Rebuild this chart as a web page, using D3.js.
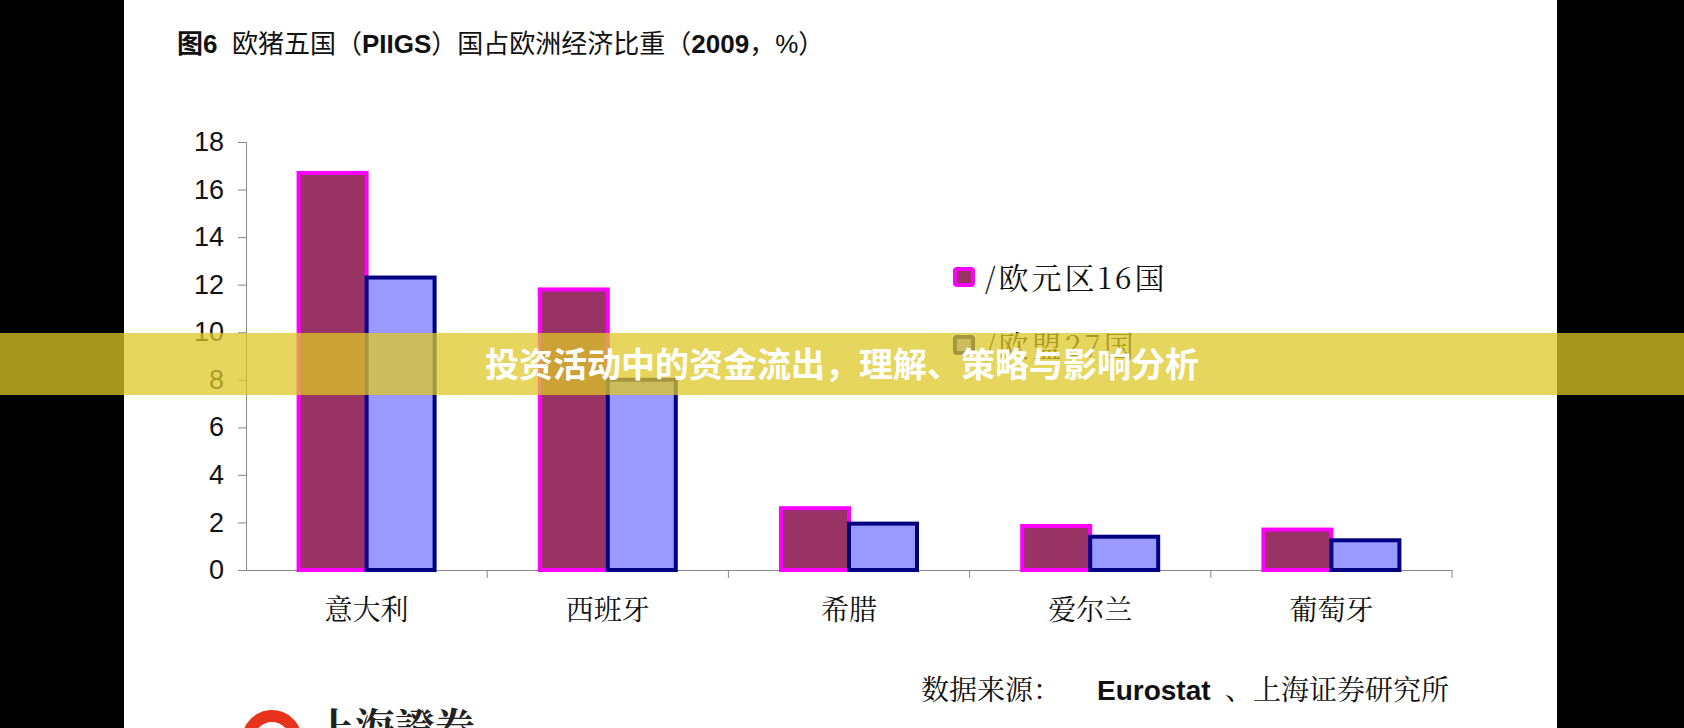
<!DOCTYPE html>
<html><head><meta charset="utf-8">
<script src="https://cdn.jsdelivr.net/npm/d3@7"></script>
<style>body{margin:0;background:#fff;overflow:hidden}</style>
</head><body>
<svg id="chart" width="1684" height="728"></svg>
<script>
var categories = ["意大利", "西班牙", "希腊", "爱尔兰", "葡萄牙"];
var euro16 = [16.7, 11.8, 2.6, 1.85, 1.7];
var eu27 = [12.3, 8.0, 1.95, 1.4, 1.25];
var seriesNames = ["/欧元区16国", "/欧盟27国"];
var yTicks = [0, 2, 4, 6, 8, 10, 12, 14, 16, 18];

var svg = d3.select("#chart");
var serif = "'Noto Serif CJK SC','Noto Sans CJK SC',serif";
var sans = "'Liberation Sans','Noto Sans CJK SC',sans-serif";

// side bars \\
svg.append("rect").attr("x", 0).attr("y", 0).attr("width", 124).attr("height", 728).attr("fill", "#000");
svg.append("rect").attr("x", 1557).attr("y", 0).attr("width", 127).attr("height", 728).attr("fill", "#000");

var title = svg.append("text").attr("x", 177).attr("y", 53)
  .attr("font-family", sans).attr("font-size", 26).attr("fill", "#111");
[["图6", true], ["  欧猪五国（", false], ["PIIGS", true], ["）国占欧洲经济比重（", false], ["2009", true], ["，%）", false]]
  .forEach(function(p) {
    title.append("tspan").attr("font-weight", p[1] ? "bold" : "normal")
      .style("white-space", "pre").text(p[0]);
  });

var y = d3.scaleLinear().domain([0, 18]).range([570, 142]);
var x = d3.scaleBand().domain(categories).range([246, 1452]);

var yAxis = svg.append("g").attr("transform", "translate(246,0)")
  .call(d3.axisLeft(y).tickValues(yTicks).tickSize(8).tickPadding(14));
yAxis.selectAll("text").attr("font-family", sans).attr("font-size", 27).attr("fill", "#111");
yAxis.select(".domain").attr("stroke", "#888");
yAxis.selectAll(".tick line").attr("stroke", "#888");

var xAxis = svg.append("g").attr("transform", "translate(0,570)")
  .call(d3.axisBottom(x).tickSize(0).tickPadding(30));
xAxis.selectAll("text").attr("font-family", serif).attr("font-size", 28).attr("fill", "#111");
xAxis.select(".domain").attr("stroke", "#888");
svg.append("g").selectAll("line").data(categories).join("line")
  .attr("x1", d => x(d) + x.bandwidth()).attr("x2", d => x(d) + x.bandwidth())
  .attr("y1", 570).attr("y2", 578).attr("stroke", "#888");

var bw = 68;
function drawBars(vals, off, fill, stroke) {
  svg.append("g").selectAll("rect").data(categories).join("rect")
    .attr("x", (d, i) => x(d) + x.bandwidth() / 2 + off)
    .attr("y", (d, i) => y(vals[i]))
    .attr("width", bw)
    .attr("height", (d, i) => y(0) - y(vals[i]))
    .attr("fill", fill).attr("stroke", stroke).attr("stroke-width", 4);
}
drawBars(euro16, -bw, "#993366", "#ff00ff");
drawBars(eu27, 0, "#9999ff", "#000080");

// legend \\
var leg = [["#993366", "#ff00ff"], ["#9999ff", "#000080"]];
seriesNames.forEach(function(n, i) {
  var ly = 278 + i * 68;
  svg.append("rect").attr("x", 955).attr("y", ly - 9).attr("width", 18).attr("height", 16)
    .attr("rx", 2).attr("fill", leg[i][0]).attr("stroke", leg[i][1]).attr("stroke-width", 4);
  svg.append("text").attr("x", 985).attr("y", ly + 11).attr("font-family", serif)
    .attr("font-size", 30).attr("letter-spacing", 3).attr("fill", "#111").text(n);
});

svg.append("text").attr("x", 921).attr("y", 700).attr("font-family", serif)
  .attr("font-size", 28).attr("fill", "#111").text("数据来源：");
svg.append("text").attr("x", 1097).attr("y", 700).attr("font-family", sans)
  .attr("font-size", 28).attr("font-weight", "bold").attr("fill", "#111").text("Eurostat");
svg.append("text").attr("x", 1225).attr("y", 700).attr("font-family", serif)
  .attr("font-size", 28).attr("fill", "#111").text("、上海证券研究所");

// logo \\
svg.append("path").attr("transform", "translate(272,740)")
  .attr("d", d3.arc().innerRadius(18).outerRadius(30).startAngle(-Math.PI * 0.6).endAngle(Math.PI * 0.55)())
  .attr("fill", "#e8331c");
svg.append("text").attr("x", 315).attr("y", 742).attr("font-family", serif)
  .attr("font-size", 40).attr("font-weight", "bold").attr("fill", "#222").text("上海證券");

// banner overlay \\
svg.append("rect").attr("x", 0).attr("y", 333).attr("width", 1684).attr("height", 62)
  .attr("fill", "rgb(222,200,40)").attr("opacity", 0.75);
svg.append("text").attr("x", 842).attr("y", 377).attr("text-anchor", "middle")
  .attr("font-family", "'Noto Sans CJK SC',sans-serif").attr("font-weight", "bold")
  .attr("font-size", 34).attr("fill", "#fff").text("投资活动中的资金流出，理解、策略与影响分析");
</script>
</body></html>
